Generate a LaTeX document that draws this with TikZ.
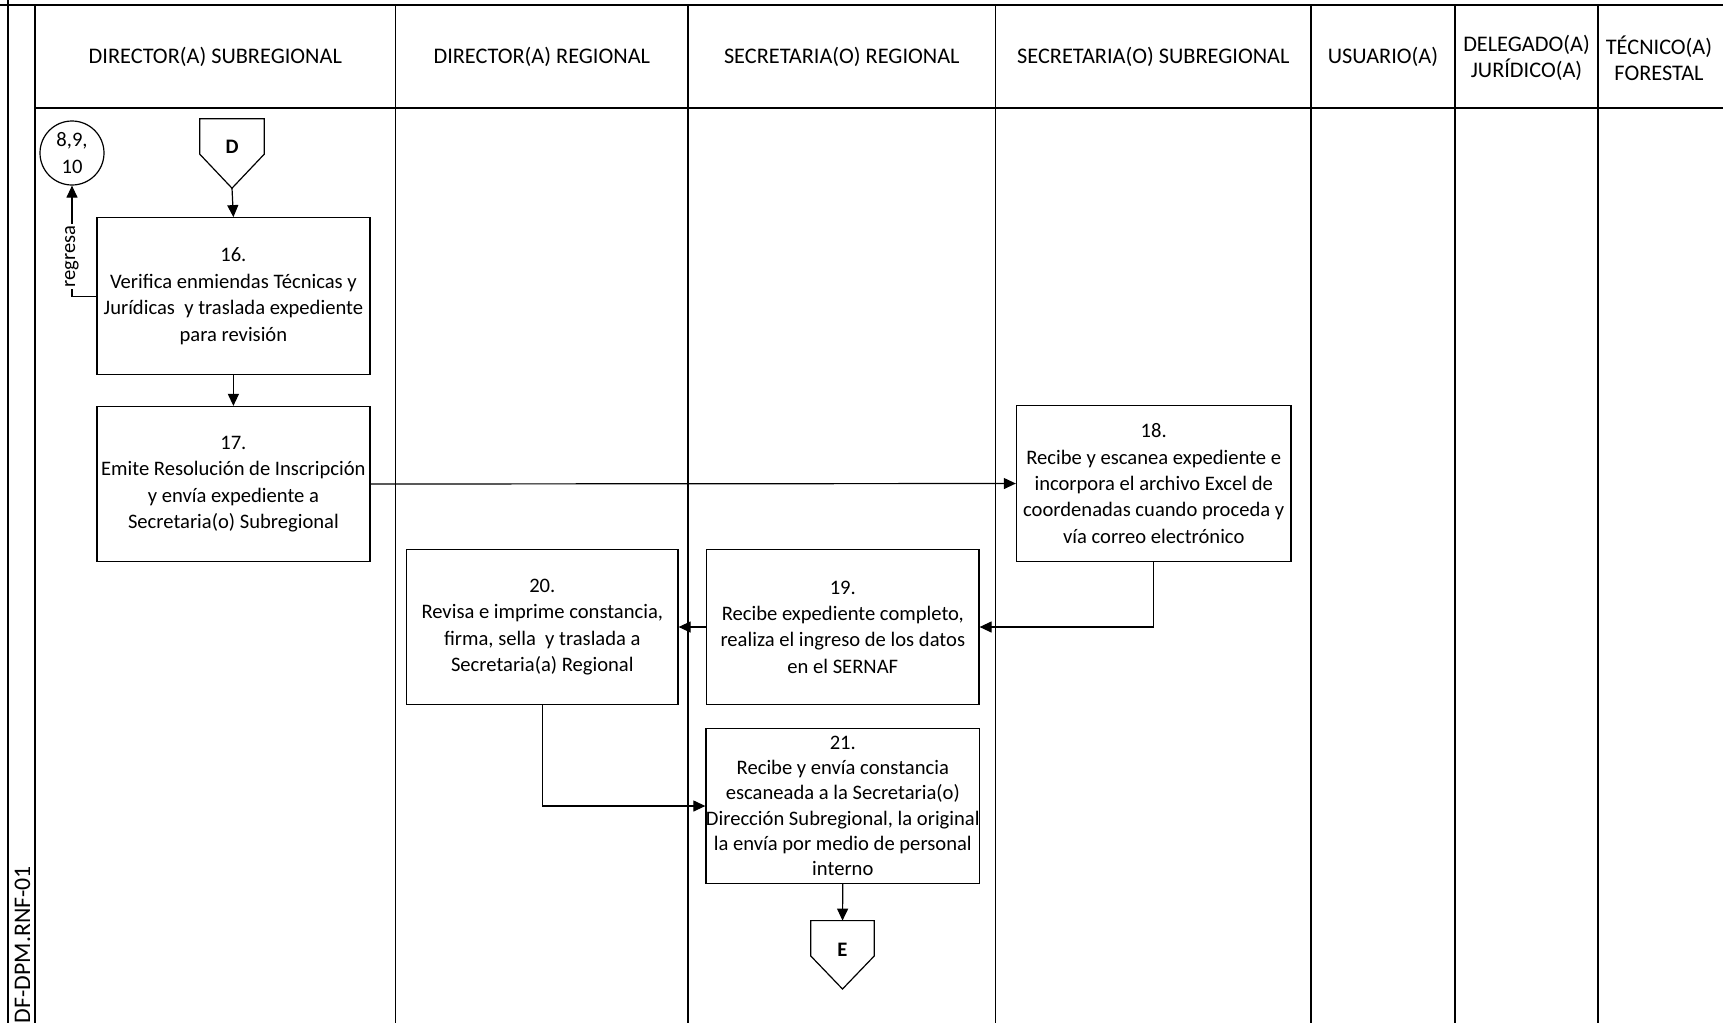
\documentclass[tikz,border=0pt]{standalone}
\usepackage{fontspec}
\setmainfont{Carlito}
\usetikzlibrary{arrows.meta,calc}
\begin{document}
\begin{tikzpicture}[x=1pt,y=-1pt,
  lane/.style={line width=1.4pt},
  txt/.style={font=\fontsize{20.6}{26.4}\selectfont, align=center, inner sep=0pt},
  headtxt/.style={txt, font=\fontsize{22.3}{26.4}\selectfont},
  stepbox/.style={txt, draw, line width=1.2pt, minimum width=273pt, minimum height=155pt},
  offpage/.style={minimum width=64pt, minimum height=69pt, inner sep=0pt},
  shapeline/.style={line width=1.2pt},
  flow/.style={line width=1.2pt, -{Triangle[length=12pt,width=11pt]}}
]
\useasboundingbox (0,0) rectangle (1723,1023);

% frame, side strip and swimlanes
\draw[lane] (0,5) -- (1723,5);
\draw[lane] (8,0) -- (8,1023);
\draw[lane] (35,5) -- (35,1023);
\draw[lane] (35,108) -- (1723,108);
\foreach \x in {395.6,688,995.6,1311,1455,1598}
  \draw[lane] (\x,5) -- (\x,1023);

% lane headings
\node[headtxt] (h1) at (215.3,57) {DIRECTOR(A) SUBREGIONAL};
\node[headtxt] (h2) at (541.8,57) {DIRECTOR(A) REGIONAL};
\node[headtxt] (h3) at (841.8,57) {SECRETARIA(O) REGIONAL};
\node[headtxt] (h4) at (1153.3,57) {SECRETARIA(O) SUBREGIONAL};
\node[headtxt] (h5) at (1383,57) {USUARIO(A)};
\node[headtxt] (h6) at (1526.5,58) {DELEGADO(A)\\JURÍDICO(A)};
\node[headtxt] (h7) at (1659,58) {TÉCNICO(A)\\FORESTAL};

% document code in the side strip
\node[txt, font=\fontsize{23.8}{26.4}\selectfont, rotate=90, anchor=east] (code) at (22.5,866) {DF-DPM.RNF-01};

% return point and incoming off-page connector
\node[txt, draw, circle, line width=1.2pt, minimum size=64pt] (c) at (72,153) {8,9,\\10};
\node[offpage] (D) at (232,153.5) {};
\draw[shapeline] (D.north west) -- (D.north east) -- ([yshift=34pt]D.south east)
  -- (D.south) -- ([yshift=34pt]D.south west) -- cycle;
\node[txt, font=\fontsize{20.6}{25.2}\selectfont\bfseries] (Dl) at ([yshift=7pt]D.center) {D};

% process steps
\node[stepbox, minimum height=157pt] (b16) at (233.4,296.2)
  {16.\\Verifica enmiendas Técnicas y\\Jurídicas \ y traslada expediente\\para revisión};
\node[stepbox] (b17) at (233.4,484)
  {17.\\Emite Resolución de Inscripción\\y envía expediente a\\Secretaria(o) Subregional};
\node[stepbox, minimum width=274.5pt, minimum height=156pt] (b18) at (1153.7,483.5)
  {18.\\Recibe y escanea expediente e\\incorpora el archivo Excel de\\coordenadas cuando proceda y\\vía correo electrónico};
\node[stepbox, minimum width=272.4pt] (b19) at (842.8,627)
  {19.\\Recibe expediente completo,\\realiza el ingreso de los datos\\en el SERNAF};
\node[stepbox, minimum width=271.4pt] (b20) at (542.3,627)
  {20.\\Revisa e imprime constancia,\\firma, sella \ y traslada a\\Secretaria(a) Regional};
\node[stepbox, minimum width=272.4pt, font=\fontsize{20.6}{25.3}\selectfont] (b21) at (842.8,806)
  {21.\\Recibe y envía constancia\\escaneada a la Secretaria(o)\\Dirección Subregional, la original\\la envía por medio de personal\\interno};

% outgoing off-page connector
\node[offpage, minimum width=63pt, minimum height=68pt] (E) at (842.5,954.8) {};
\draw[shapeline] (E.north west) -- (E.north east) -- ([yshift=33pt]E.south east)
  -- (E.south) -- ([yshift=33pt]E.south west) -- cycle;
\node[txt, font=\fontsize{20.6}{25.2}\selectfont\bfseries] (El) at ([yshift=5pt]E.center) {E};

% connectors
\draw[flow] (D.south) -- (b16.north);
\draw[flow] (b16.west) -| node[txt, pos=0.68, rotate=90, fill=white, inner sep=1.5pt] (rg) {regresa} (c.south);
\draw[flow] (b16.south) -- (b17.north);
\draw[flow] (b17.east) -- (b18.west);
\draw[flow] (b18.south) |- (b19.east);
\draw[flow] (b19.west) -- (b20.east);
\draw[flow] (b20.south) |- (b21.west);
\draw[flow] (b21.south) -- (E.north);
\end{tikzpicture}
\end{document}
